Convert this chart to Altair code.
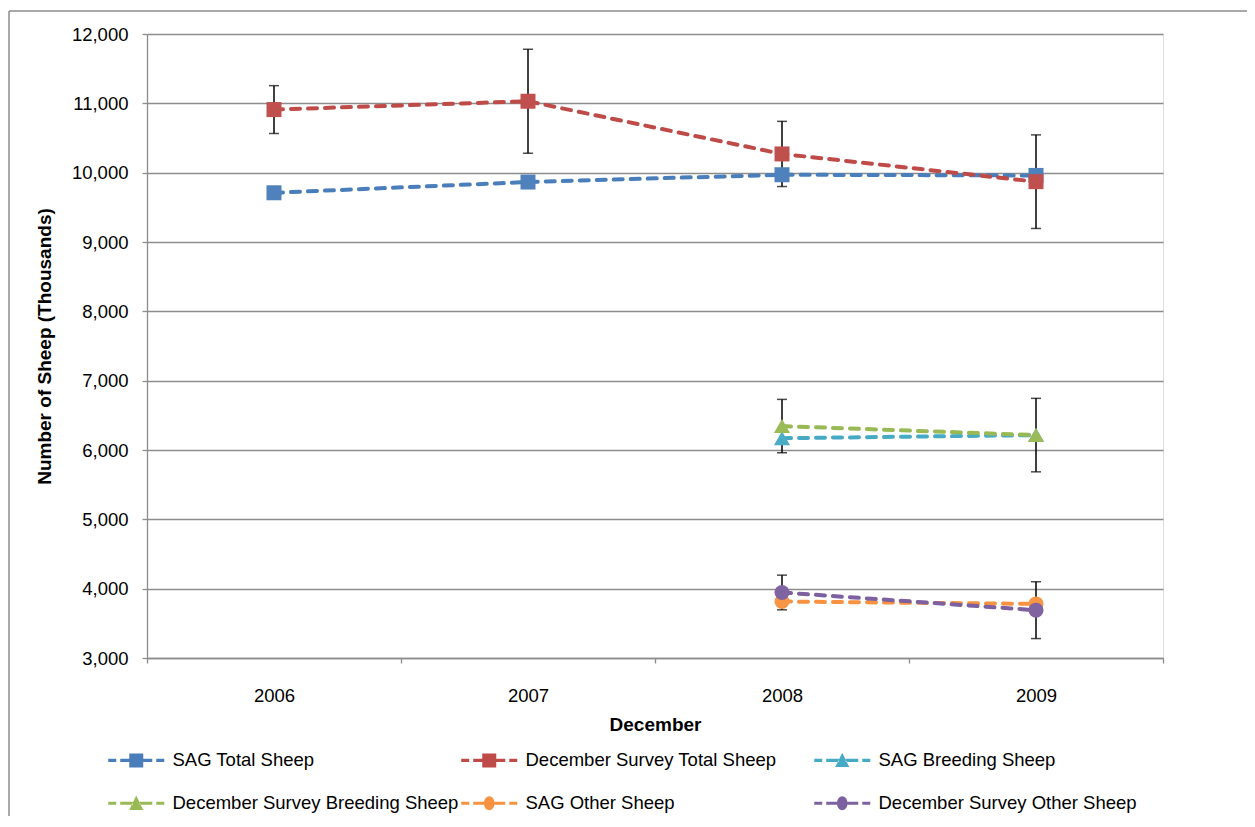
import altair as alt
import pandas as pd

# ---- data ----
years = ["2006", "2007", "2008", "2009"]
series_names = [
    "SAG Total  Sheep",
    "December Survey Total Sheep",
    "SAG Breeding Sheep",
    "December Survey Breeding Sheep",
    "SAG Other Sheep",
    "December Survey Other Sheep",
]
sag_total = [9710, 9865, 9970, 9960]
dec_total = [10910, 11030, 10270, 9870]
dec_total_err = [345, 750, 470, 675]
sag_breeding = [None, None, 6170, 6215]
dec_breeding = [None, None, 6345, 6215]
dec_breeding_err = [None, None, 385, 530]
sag_other = [None, None, 3815, 3780]
dec_other = [None, None, 3945, 3690]
dec_other_err = [None, None, 250, 410]
y_ticks = [3000, 4000, 5000, 6000, 7000, 8000, 9000, 10000, 11000, 12000]

# ---- styles ----
marker_fill = ["#4F81BD", "#C0504D", "#4BACC6", "#9BBB59", "#F79646", "#8064A2"]
line_col = ["#4A7EBB", "#BE4B48", "#46AAC5", "#98B954", "#F69240", "#7D60A0"]
marker_of = ["square", "square", "triangle-up", "triangle-up", "circle", "circle"]

# legend symbols: dashed line with marker (unit box, 1 unit = 7px)
dash_l = "M-4,-0.22H-2.86V0.22H-4Z M-2.29,-0.22H{a}V0.22H-2.29Z"
dash_r = "M{b},-0.22H2.29V0.22H{b}Z M2.86,-0.22H4V0.22H2.86Z"
sq = "M-1,-1H1V1H-1Z"
tri = "M-1,0.95L1,0.95L0,-1.1Z"
circ = "M-0.75,0A0.75,1 0 1,0 0.75,0A0.75,1 0 1,0 -0.75,0Z"
p_sq = dash_l.format(a=-1) + " " + sq + " " + dash_r.format(b=1)
p_tri = dash_l.format(a=-0.5) + " " + tri + " " + dash_r.format(b=0.5)
p_circ = dash_l.format(a=-0.75) + " " + circ + " " + dash_r.format(b=0.75)
legend_paths = [p_sq, p_sq, p_tri, p_tri, p_circ, p_circ]

FONT = "Liberation Sans"

rows = []
vals = [sag_total, dec_total, sag_breeding, dec_breeding, sag_other, dec_other]
errs = [None, dec_total_err, None, dec_breeding_err, None, dec_other_err]
for si, name in enumerate(series_names):
    for yi, yr in enumerate(years):
        v = vals[si][yi]
        if v is None:
            continue
        e = errs[si][yi] if errs[si] is not None else None
        rows.append({
            "Year": yr, "Series": name, "Value": v,
            "Marker": marker_of[si],
            "Low": v - e if e is not None else None,
            "High": v + e if e is not None else None,
            "order": si,
        })
df = pd.DataFrame(rows)

x_enc = alt.X(
    "Year:O",
    sort=years,
    scale=alt.Scale(type="band", domain=years, paddingInner=0, paddingOuter=0),
    axis=alt.Axis(
        title="December", tickBand="extent", grid=False,
        domainColor="#8C8C8C", domainWidth=1.3, tickColor="#8C8C8C", tickSize=5,
        tickWidth=1.3, labelPadding=23, labelFont=FONT, labelFontSize=18.5,
        labelColor="#000000", labelAngle=0, titleFont=FONT, titleFontSize=19,
        titleFontWeight="bold", titleColor="#000000", titlePadding=11,
    ),
)
y_scale = alt.Scale(domain=[3000, 12000], nice=False, zero=False)
y_axis = alt.Axis(
    values=y_ticks, format=",d", title="Number of Sheep (Thousands)",
    grid=True, gridColor="#8C8C8C", gridWidth=1.3,
    domainColor="#8C8C8C", domainWidth=1.3, tickColor="#8C8C8C", tickSize=5,
    tickWidth=1.3, labelPadding=14, labelFont=FONT, labelFontSize=18.5,
    labelColor="#000000", titleFont=FONT, titleFontSize=19, titleFontWeight="bold",
    titleColor="#000000", titlePadding=17,
)

base = alt.Chart(df)

# stroke / fill scales listed in reverse order so that their (hidden) legends
# are not merged with the visible colour+shape legend
lines = base.mark_line(strokeWidth=4, strokeDash=[9, 8], strokeCap="round").encode(
    x=x_enc,
    y=alt.Y("Value:Q", scale=y_scale, axis=y_axis),
    stroke=alt.Stroke("Series:N", scale=alt.Scale(domain=series_names[::-1], range=line_col[::-1]), legend=None),
    detail="Series:N",
)

err_df = base.transform_filter("isValid(datum.Low)")
err_rule = err_df.mark_rule(color="#000000", strokeWidth=1.5).encode(
    x=x_enc,
    y=alt.Y("Low:Q", scale=y_scale, axis=y_axis),
    y2="High:Q",
)
err_cap_lo = err_df.mark_tick(color="#000000", thickness=1.5, size=10).encode(
    x=x_enc, y=alt.Y("Low:Q", scale=y_scale, axis=y_axis),
)
err_cap_hi = err_df.mark_tick(color="#000000", thickness=1.5, size=10).encode(
    x=x_enc, y=alt.Y("High:Q", scale=y_scale, axis=y_axis),
)

marker_size = {"square": 225, "triangle-up": 260, "circle": 225}
point_layers = []
for shp in ["square", "triangle-up", "circle"]:
    point_layers.append(
        base.transform_filter(alt.datum.Marker == shp)
        .mark_point(filled=True, shape=shp, size=marker_size[shp], opacity=1, strokeWidth=0)
        .encode(
            x=x_enc,
            y=alt.Y("Value:Q", scale=y_scale, axis=y_axis),
            fill=alt.Fill("Series:N", scale=alt.Scale(domain=series_names[::-1], range=marker_fill[::-1]), legend=None),
            order="order:Q",
        )
    )

# layer that only carries the legend (no rows drawn)
legend_layer = base.transform_filter("false").mark_point(filled=True, opacity=1).encode(
    x=x_enc,
    y=alt.Y("Value:Q", scale=y_scale, axis=y_axis),
    color=alt.Color(
        "Series:N",
        scale=alt.Scale(domain=series_names, range=line_col),
        legend=alt.Legend(
            title=None, orient="none", direction="horizontal", legendX=-20, legendY=717,
            columns=3, gridAlign="all", symbolSize=196, symbolStrokeWidth=0,
            symbolOpacity=1, labelOffset=27, labelFont=FONT, labelFontSize=18.5,
            labelColor="#000000", labelLimit=500, rowPadding=24, columnPadding=2,
            padding=0,
        ),
    ),
    shape=alt.Shape("Series:N", scale=alt.Scale(domain=series_names, range=legend_paths)),
)

frame_df = pd.DataFrame({"k": [0]})
frame_left = alt.Chart(frame_df).mark_rule(color="#8C8C8C", strokeWidth=1.5).encode(
    x=alt.value(-138), y=alt.value(-23), y2=alt.value(900)
)
frame_top = alt.Chart(frame_df).mark_rule(color="#8C8C8C", strokeWidth=1.5).encode(
    x=alt.value(-138), x2=alt.value(1200), y=alt.value(-23)
)

chart = alt.layer(
    frame_left, frame_top, lines, err_rule, err_cap_lo, err_cap_hi, *point_layers, legend_layer
).properties(
    width=1016, height=624,
    autosize=alt.AutoSizeParams(type="none"),
    padding={"left": 139, "top": 26, "right": 84, "bottom": 158},
).configure_view(stroke=None).configure(background="#FFFFFF")

chart.save("out.html", embed_options={"renderer": "svg", "actions": False})
